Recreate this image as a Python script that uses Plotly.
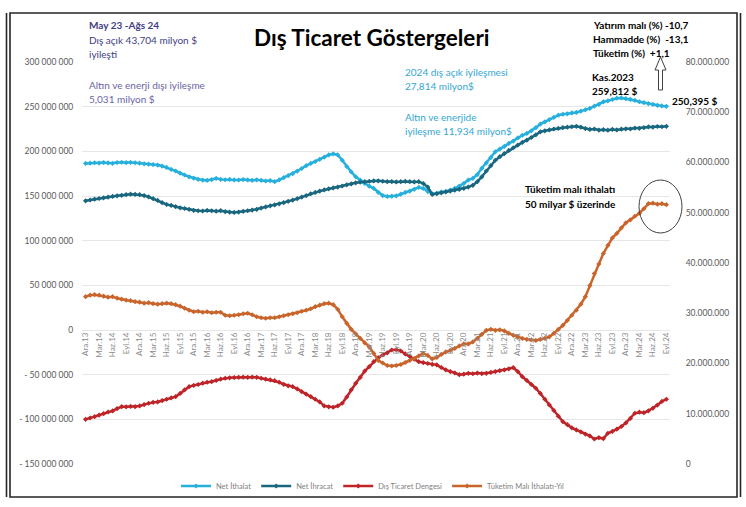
import plotly.graph_objects as go

# ---------------- data (values in million $, monthly Ara.13 .. Eyl.24) ----------------
month_names = ["Oca", "Şub", "Mar", "Nis", "May", "Haz", "Tem", "Ağu", "Eyl", "Eki", "Kas", "Ara"]

net_ithalat = [
    186.5, 186.8, 187.2, 186.9, 187.4, 187.0, 186.6, 187.5, 187.8, 187.3, 187.6, 187.2,
    186.8, 186.0, 185.6, 185.2, 184.6, 183.5, 182.0, 179.8, 178.0, 175.5,
    173.5, 171.5, 170.0, 168.5, 167.8,
    167.5, 168.3, 169.7, 168.6, 168.2, 168.5, 168.0, 167.9, 168.4, 168.0, 167.6, 168.1, 167.5, 166.8, 167.3,
    166.0, 168.0, 170.5, 172.8, 175.0, 177.8, 180.8, 184.0, 186.5, 188.5, 191.0, 193.5, 196.0, 197.2, 196.0, 190.0,
    183.0, 177.0, 171.5, 167.8,
    164.0, 161.0, 158.5, 154.0, 150.5,
    149.5, 149.8, 150.2, 152.0,
    154.0, 155.5, 157.5, 159.6, 158.5,
    155.0, 152.5, 153.0, 154.5,
    155.0, 156.5, 158.5, 161.0, 164.0,
    167.8, 169.7, 174.0, 181.0,
    187.0, 193.0, 199.5, 202.5, 205.5, 208.8,
    211.5, 215.0, 218.0, 220.0, 223.0, 226.5, 230.5,
    233.0, 235.5, 238.0, 240.5,
    241.5, 242.0, 243.0, 243.5, 245.0, 246.5,
    248.0, 250.5, 252.5, 255.4, 256.5, 258.0, 259.5, 259.8,
    259.0, 258.2, 257.0, 255.5, 254.5, 253.5, 252.5, 251.5, 250.8, 250.4,
]

net_ihracat = [
    144.6, 145.5, 146.5, 147.2, 148.0, 148.8,
    149.5, 150.2, 150.8, 151.5, 152.0, 151.8, 151.5,
    150.5, 149.0, 147.0, 145.0, 142.5, 140.5,
    139.5, 138.0, 136.8, 136.0, 135.0, 134.0, 133.5,
    133.2, 133.8, 133.5, 133.0, 133.6, 132.5, 132.0, 131.6,
    132.0, 132.8, 133.5, 134.2, 135.0, 136.5, 137.8, 139.0,
    140.0, 141.2, 142.5, 144.0, 145.4, 147.0, 148.8, 150.5, 152.5, 154.0,
    155.5, 156.8, 158.0, 159.0, 160.0, 161.2, 162.5, 163.5, 164.8,
    165.5, 166.0, 166.5, 167.0, 167.0, 166.5, 166.0, 166.2, 165.8, 166.0, 166.4, 166.0, 165.8, 166.0, 164.0,
    160.0, 151.8, 152.5, 153.5, 154.7,
    155.5, 156.5, 157.5, 158.5, 160.0, 162.0, 166.0,
    171.5, 178.0, 184.0, 190.0, 194.0, 197.5, 201.0,
    204.0, 207.0, 210.0, 212.5, 215.5, 218.5, 221.8,
    223.0, 224.0, 225.0, 225.6, 226.5, 227.0, 227.5,
    228.0, 227.0, 225.5, 224.5, 225.0, 223.8, 224.2,
    223.7, 224.5, 224.0, 224.8, 225.2, 225.0, 226.0,
    225.8, 226.5, 227.4, 227.0, 227.8, 227.5, 228.0,
]

dis_ticaret_dengesi = [
    -100.0, -98.5, -97.0, -95.2, -93.5, -91.8, -90.6, -88.0,
    -85.8, -86.0, -85.5, -85.8, -85.0, -83.5, -82.0, -81.0,
    -80.5, -79.0, -77.5, -76.0, -74.6, -71.0, -67.0, -63.4,
    -62.0, -61.0, -59.5, -58.5, -57.8, -56.5, -55.0, -54.0,
    -53.5, -53.2, -53.0, -52.8, -53.0, -52.7, -53.0, -54.0, -55.0, -55.8, -56.7,
    -58.5, -60.8, -62.5, -63.4, -66.0, -69.0, -71.8, -74.5, -77.5, -80.5, -85.0, -86.0,
    -86.5, -85.0, -82.0, -75.0, -67.0, -59.7, -53.0, -46.0,
    -41.0, -35.5, -31.0, -28.0, -25.5, -22.4, -22.0, -23.5,
    -26.8, -29.5, -32.5, -35.5, -36.5, -37.5, -38.5, -39.0, -42.0, -44.7,
    -46.5, -48.0, -50.0, -49.5, -48.5, -49.0, -48.2, -48.8, -48.5,
    -47.5, -46.5, -45.5, -44.7, -43.5, -42.2, -46.5,
    -52.2, -56.5, -61.0, -65.2, -71.0, -77.5, -83.9, -90.0, -96.5,
    -102.6, -106.0, -109.5, -111.9, -114.0, -116.5, -118.6, -122.0,
    -120.5, -121.5, -115.6, -113.5, -111.0, -108.0, -104.0, -99.0,
    -93.2, -92.0, -92.5, -90.5, -87.6, -84.0, -80.0, -77.5,
]

tuketim_mali_ithalati = [
    33.3, 33.6, 33.7, 33.6, 33.4, 33.2, 33.3, 33.0,
    32.8, 32.6, 32.5, 32.3, 32.2, 32.0, 32.1, 31.9,
    31.8, 31.9, 32.0, 31.9, 31.7, 31.4, 31.0, 30.6,
    30.3, 30.4, 30.2, 30.3, 30.1, 30.2, 30.2, 29.6,
    29.5, 29.6, 29.7, 29.9, 30.0, 29.7, 29.3, 29.1, 29.0, 29.1,
    29.1, 29.3, 29.5, 29.7, 29.9, 30.1, 30.4, 30.6,
    30.9, 31.3, 31.6, 31.9, 32.0, 31.7, 30.8, 29.3,
    28.0, 26.8, 25.9, 25.0, 24.1, 23.3, 22.0, 20.6,
    20.1, 19.6, 19.5, 19.6, 19.8, 20.2, 20.6, 21.0,
    21.5, 22.0, 21.6, 20.9, 21.2, 21.8, 22.3, 22.6,
    23.0, 23.5, 23.9, 23.9, 24.3, 25.0, 25.8, 26.6,
    26.8, 26.6, 26.7, 26.5, 26.0, 25.6, 25.3, 25.0,
    24.8, 24.7, 24.6, 24.8, 25.0, 25.3, 26.0, 26.8,
    27.6, 28.6, 29.6, 30.6, 31.8, 33.3, 35.5, 37.9,
    39.8, 41.9, 43.5, 45.0, 45.9, 47.0, 48.0, 48.6,
    49.3, 49.9, 50.8, 51.8, 51.9, 51.7, 51.8, 51.6,
]

left_tick_vals = [-150, -100, -50, 0, 50, 100, 150, 200, 250, 300]
left_tick_text = ["- 150 000 000", "- 100 000 000", "- 50 000 000", "0", "50 000 000",
                  "100 000 000", "150 000 000", "200 000 000", "250 000 000", "300 000 000"]
right_tick_vals = [0, 10, 20, 30, 40, 50, 60, 70, 80]
right_tick_text = ["0", "10.000.000", "20.000.000", "30.000.000", "40.000.000",
                   "50.000.000", "60.000.000", "70.000.000", "80.000.000"]

# ---------------- categories ----------------
n = len(net_ithalat)
assert n == len(net_ihracat) == len(dis_ticaret_dengesi) == len(tuketim_mali_ithalati) == 130
categories = []
for k in range(n):
    m = (11 + k) % 12
    y = 13 + (11 + k) // 12
    categories.append(f"{month_names[m]}.{y:02d}")
xs = list(range(n))
tick_idx = list(range(0, n, 3))

M = 1e6
W, H = 746, 507
L, R, T, B = 82, 670, 62, 464


def fx(px):
    return (px - L) / (R - L)


def fy(py):
    return (B - py) / (B - T)


fig = go.Figure()
series = [
    ("Net İthalat", net_ithalat, "#27B0DD", "y"),
    ("Net İhracat", net_ihracat, "#19677F", "y"),
    ("Dış Ticaret Dengesi", dis_ticaret_dengesi, "#BE2428", "y"),
    ("Tüketim Malı İthalatı-Yıl", tuketim_mali_ithalati, "#C9652B", "y2"),
]
for name, vals, col, ax in series:
    fig.add_trace(go.Scatter(
        x=xs, y=[v * M for v in vals], name=name, yaxis=ax,
        mode="lines+markers",
        line=dict(color=col, width=2.5),
        marker=dict(color=col, size=4, symbol="diamond"),
    ))

font_main = "Lato, 'Open Sans', sans-serif"

fig.update_layout(
    width=W, height=H,
    margin=dict(l=L, r=W - R, t=T, b=H - B, autoexpand=False),
    paper_bgcolor="white", plot_bgcolor="white",
    font=dict(family=font_main, color="#595959"),
    showlegend=True,
    legend=dict(orientation="h", x=fx(373), xanchor="center", y=fy(486), yanchor="middle",
                font=dict(size=7.5, color="#7F7F7F"), itemwidth=30, bgcolor="rgba(0,0,0,0)",
                tracegroupgap=0),
    xaxis=dict(
        range=[-0.8, n - 0.2], anchor="free", position=150 / 450,
        tickmode="array", tickvals=tick_idx, ticktext=[categories[i] for i in tick_idx],
        tickangle=-90, tickfont=dict(size=8, color="#8C8C8C"),
        showgrid=False, zeroline=False, showline=False, ticks="", ticklen=0,
    ),
    yaxis=dict(
        range=[-150 * M, 300 * M], tickmode="array",
        tickvals=[v * M for v in left_tick_vals], ticktext=left_tick_text,
        tickfont=dict(size=8.5, color="#595959"),
        showgrid=True, gridcolor="#E6E6E6", gridwidth=1, zeroline=False,
        ticks="outside", ticklen=6, tickcolor="rgba(0,0,0,0)",
    ),
    yaxis2=dict(
        range=[0, 80 * M], overlaying="y", side="right", tickmode="array",
        tickvals=[v * M for v in right_tick_vals], ticktext=right_tick_text,
        tickfont=dict(size=8.5, color="#595959"),
        showgrid=False, zeroline=False,
        ticks="outside", ticklen=13, tickcolor="rgba(0,0,0,0)",
    ),
)

# ---------------- frame ----------------
fig.add_shape(type="rect", xref="paper", yref="paper",
              x0=fx(10), x1=fx(737), y0=fy(497), y1=fy(13),
              line=dict(color="#262626", width=1.6), fillcolor="rgba(0,0,0,0)", layer="below")
fig.add_shape(type="line", xref="paper", yref="paper", x0=fx(6.5), x1=fx(6.5), y0=fy(497), y1=fy(13),
              line=dict(color="#262626", width=1.6))
fig.add_shape(type="line", xref="paper", yref="paper", x0=fx(740.5), x1=fx(740.5), y0=fy(497), y1=fy(13),
              line=dict(color="#262626", width=1.6))

# ---------------- circle & arrow ----------------
fig.add_shape(type="circle", xref="paper", yref="paper",
              x0=fx(639), x1=fx(682), y0=fy(233), y1=fy(180),
              line=dict(color="#404040", width=1))
pts = [(658.5, 90), (658.5, 70), (655, 70), (660.5, 57), (666, 70), (662.5, 70), (662.5, 90)]
path = "M " + " L ".join(f"{fx(a):.5f},{fy(b):.5f}" for a, b in pts) + " Z"
fig.add_shape(type="path", xref="paper", yref="paper", path=path,
              line=dict(color="#404040", width=1), fillcolor="white")


def note(text, px, py, color="#000000", size=10.5, bold=False, xanchor="left"):
    if bold:
        text = f"<b>{text}</b>"
    fig.add_annotation(text=text, x=fx(px), y=fy(py), xref="paper", yref="paper",
                       xanchor=xanchor, yanchor="middle", showarrow=False,
                       font=dict(size=size, color=color, family=font_main))


# title
note("Dış Ticaret Göstergeleri", 372, 37, color="#000000", size=22.5, bold=True, xanchor="center")

purple = "#403E86"
purple2 = "#6965A6"
note("May 23 -Ağs 24", 87, 25, color=purple, size=10, bold=True)
note("Dış açık 43,704 milyon $", 87, 40, color=purple, size=10)
note("iyileşti", 87, 54, color=purple, size=10)
note("Altın ve enerji dışı iyileşme", 87, 85, color=purple2, size=10)
note("5,031 milyon $", 87, 99, color=purple2, size=10)

blue = "#33A6D6"
note("2024 dış açık iyileşmesi", 403, 72, color=blue, size=10)
note("27,814 milyon$", 403, 86, color=blue, size=10)
note("Altın ve enerjide", 403, 117, color=blue, size=10)
note("iyileşme 11,934 milyon$", 403, 131, color=blue, size=10)

note("Yatırım malı (%) -10,7", 591, 25, size=10, bold=True)
note("Hammadde (%)  -13,1", 591, 39, size=10, bold=True)
note("Tüketim (%)  +1,1", 591, 53, size=10, bold=True)

note("Kas.2023", 590, 77, size=10, bold=True)
note("259,812 $", 590, 91, size=10, bold=True)
note("250,395 $", 670, 101, size=10, bold=True)

note("Tüketim malı ithalatı", 523, 189, size=10, bold=True)
note("50 milyar $ üzerinde", 523, 204, size=10, bold=True)

fig.write_html("out.html", config={"displayModeBar": False},
               post_script="document.body.style.margin='0';document.body.style.padding='0';")
